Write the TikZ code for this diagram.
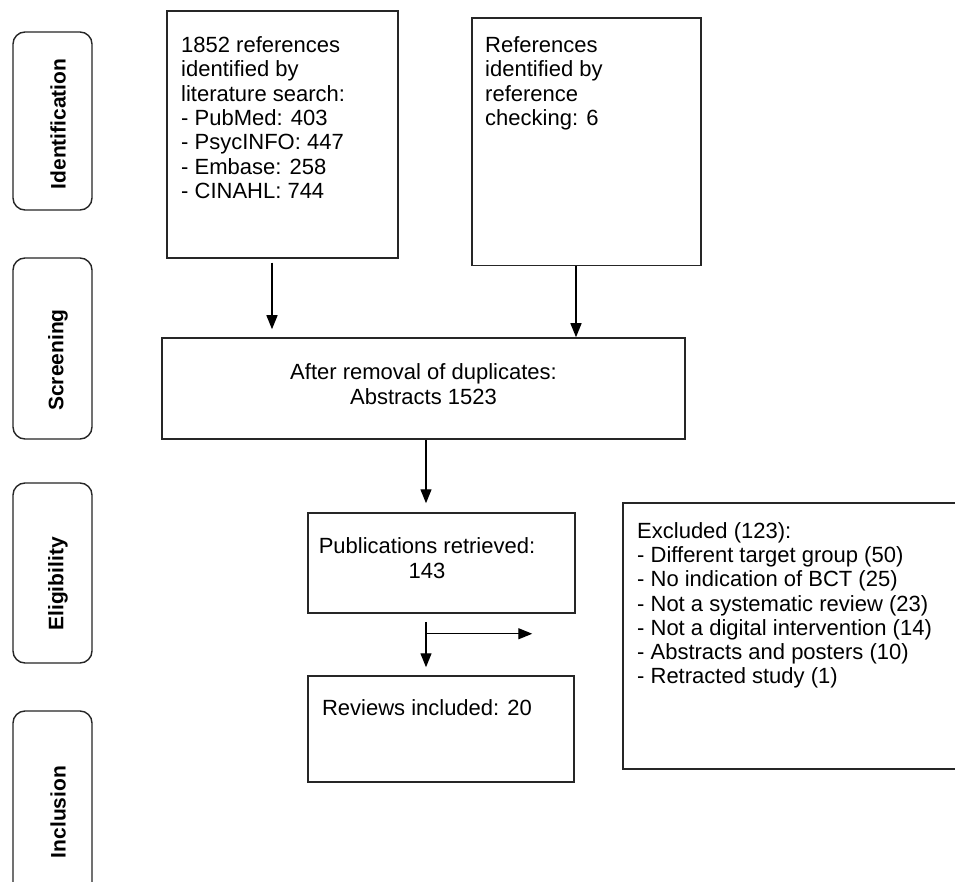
\documentclass[tikz,border=0pt]{standalone}
\usepackage{fontspec}
\setmainfont{Liberation Sans}
\usetikzlibrary{arrows.meta,calc}
\tikzset{
  box/.style={draw=black!85, line width=1.5pt, inner sep=0pt},
  stagebox/.style={draw=black!85, line width=1.4pt, rounded corners=12pt, inner sep=0pt, minimum width=79pt},
  stagelabel/.style={rotate=90, font=\fontsize{21}{24}\selectfont\bfseries, inner sep=0pt},
  bodytext/.style={font=\fontsize{22}{24.3}\selectfont, inner sep=0pt},
  arr/.style={line width=1.4pt, -{Triangle[length=14pt,width=11pt]}}
}
\begin{document}
\begin{tikzpicture}[x=1pt,y=-1pt]
\useasboundingbox (0,0) rectangle (955,882);
\clip (0,0) rectangle (955,882);
\fill[white] (0,0) rectangle (955,882);

% stage boxes
\node[stagebox, minimum height=178pt] (ident) at (52.5,121) {};
\node[stagebox, minimum height=181pt] (screen) at (52.5,348.5) {};
\node[stagebox, minimum height=180pt] (elig) at (52.5,573) {};
\node[stagebox, minimum height=184pt] (incl) at (52.5,803) {};
\node[stagelabel] (identL) at (58,124) {Identification};
\node[stagelabel] (screenL) at (58,360) {Screening};
\node[stagelabel] (eligL) at (58,584) {Eligibility};
\node[stagelabel] (inclL) at (58,812) {Inclusion};

% flow boxes
\node[box, minimum width=231pt, minimum height=247pt] (A) at (282.5,134.5) {};
\node[box, minimum width=229pt, minimum height=247.5pt] (B) at (586.5,141.75) {};
\node[box, minimum width=523pt, minimum height=101pt] (C) at (423.5,388.5) {};
\node[box, minimum width=267pt, minimum height=100pt] (D) at (441.5,563) {};
\node[box, minimum width=266pt, minimum height=106pt] (E) at (441,729) {};
\node[box, minimum width=342pt, minimum height=266pt] (F) at (794,636) {};

% texts
\node[bodytext, anchor=north west, align=left] (Atext) at (181,36.5)
  {1852 references\\identified by\\literature search:\\- PubMed: 403\\- PsycINFO: 447\\- Embase: 258\\- CINAHL: 744};
\node[bodytext, anchor=north west, align=left] (Btext) at (485,36.5)
  {References\\identified by\\reference\\checking: 6};
\node[bodytext, align=center] (Ctext) at (423.5,384)
  {After removal of duplicates:\\Abstracts 1523};
\node[bodytext, align=center] (Dtext) at (427,558)
  {Publications retrieved:\\143};
\node[bodytext] (Etext) at (427,708) {Reviews included: 20};
\node[bodytext, anchor=north west, align=left] (Ftext) at (637,522)
  {Excluded (123):\\- Different target group (50)\\- No indication of BCT (25)\\- Not a systematic review (23)\\- Not a digital intervention (14)\\- Abstracts and posters (10)\\- Retracted study (1)};

% connectors
\draw[arr, shorten >=8pt] ([xshift=-10.5pt,yshift=-4pt]A.south) -- ([xshift=-10.5pt]A.south |- C.north);
\draw[arr] ([xshift=-10.5pt]B.south) -- ([xshift=-10.5pt]B.south |- C.north);
\draw[arr, shorten >=9pt] ([xshift=2.5pt]C.south) -- ([xshift=2.5pt]C.south |- D.north);
\draw[arr, shorten >=8pt] ([xshift=-15.5pt,yshift=-8pt]D.south) -- ([xshift=-15.5pt]D.south |- E.north);
\coordinate (br) at ([xshift=-15.5pt,yshift=-20pt]D.south);
\draw[arr, shorten >=90pt] (br) -- (br -| F.west);
\end{tikzpicture}
\end{document}
